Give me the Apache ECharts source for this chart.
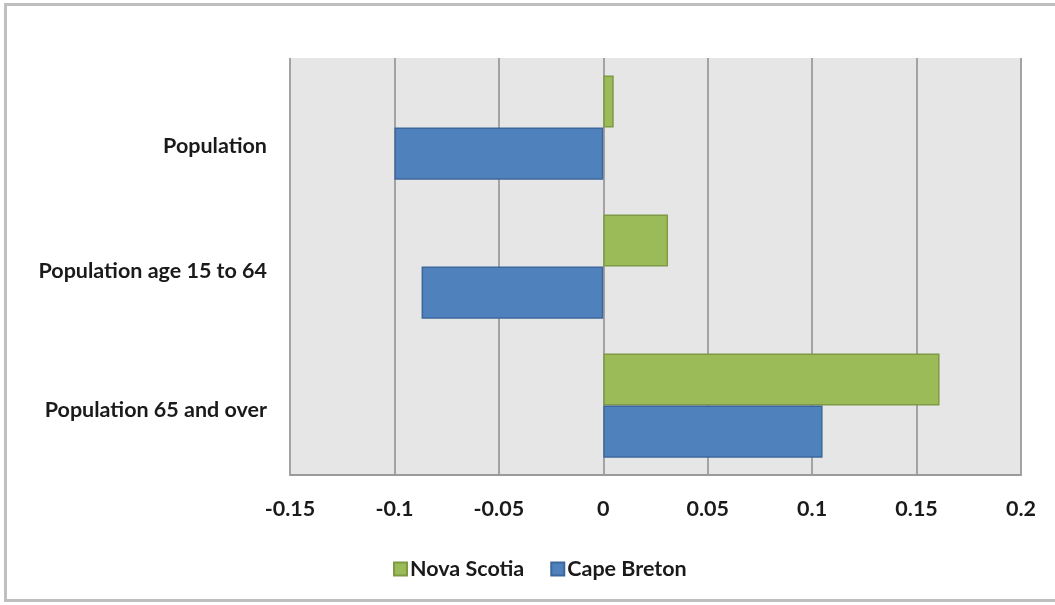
<!DOCTYPE html>
<html>
<head>
<meta charset="utf-8">
<script src="https://cdn.jsdelivr.net/npm/echarts@6/dist/echarts.min.js"></script>
<style>
  html, body { margin: 0; padding: 0; background: #ffffff; }
  #chart { width: 1055px; height: 605px; }
</style>
</head>
<body>
<div id="chart"></div>
<script>
// Population change by age group, Nova Scotia vs Cape Breton
const categories = ['Population', 'Population age 15 to 64', 'Population 65 and over'];
const novaScotia = [0.005, 0.031, 0.161];
const capeBreton = [-0.1, -0.087, 0.105];
const xTicks = { min: -0.15, max: 0.2, step: 0.05 };

const FONT = 'Lato, "Open Sans", sans-serif';
const FONT_SIZE = 21.5;
const labelShift = [19, 5, 5];

const chart = echarts.init(document.getElementById('chart'));

const richLabels = {};
labelShift.forEach((s, i) => {
  richLabels['c' + i] = {
    fontFamily: FONT, fontWeight: 'bold', fontSize: FONT_SIZE, color: '#1a1a1a',
    padding: [s * 2, 0, 0, 0]
  };
});

chart.setOption({
  animation: false,
  backgroundColor: '#ffffff',
  graphic: [{
    type: 'rect',
    shape: { x: 5.5, y: 4.5, width: 1060, height: 596 },
    style: { fill: 'none', stroke: '#bfbfbf', lineWidth: 3 },
    z: 0
  }],
  grid: {
    left: 290, right: 34, top: 58, bottom: 130,
    show: true, backgroundColor: '#e6e6e6', borderWidth: 0
  },
  legend: {
    left: 388, top: 553,
    icon: 'rect', itemWidth: 13, itemHeight: 13, itemGap: 26,
    textStyle: { fontFamily: FONT, fontWeight: 'bold', fontSize: FONT_SIZE, color: '#1a1a1a', padding: [0, 0, 0, -2] },
    data: ['Nova Scotia', 'Cape Breton']
  },
  xAxis: {
    type: 'value',
    min: xTicks.min, max: xTicks.max, interval: xTicks.step,
    axisLine: { show: true, onZero: false, lineStyle: { color: '#9a9a9a', width: 2 } },
    axisTick: { show: false },
    splitLine: { show: true, lineStyle: { color: '#a3a3a3', width: 2 } },
    axisLabel: {
      margin: 23,
      fontFamily: FONT, fontWeight: 'bold', fontSize: FONT_SIZE, color: '#1a1a1a',
      formatter: v => String(Math.round(v * 100) / 100)
    }
  },
  yAxis: {
    type: 'category',
    inverse: true,
    data: categories,
    axisLine: { show: false },
    axisTick: { show: false },
    splitLine: { show: false },
    axisLabel: {
      margin: 23,
      formatter: (v, i) => '{c' + i + '|' + v + '}',
      rich: richLabels
    }
  },
  series: [
    {
      name: 'Nova Scotia', type: 'bar', data: novaScotia,
      barGap: '0%', barCategoryGap: '25%',
      itemStyle: { color: '#9bbb59', borderColor: '#7e9a45', borderWidth: 1.5 }
    },
    {
      name: 'Cape Breton', type: 'bar', data: capeBreton,
      barGap: '0%', barCategoryGap: '25%',
      itemStyle: { color: '#4f81bd', borderColor: '#3d679b', borderWidth: 1.5 }
    }
  ]
});
</script>
</body>
</html>
